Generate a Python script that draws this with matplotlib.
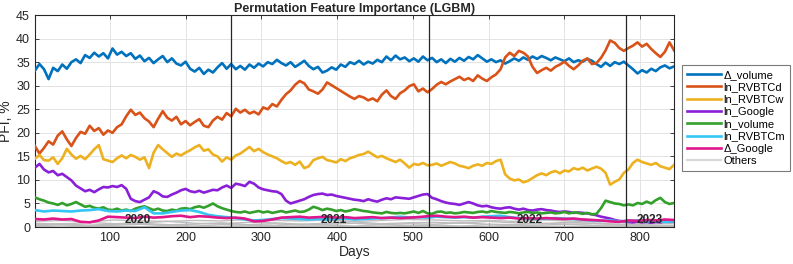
import numpy as np
import matplotlib
matplotlib.use("Agg")
import matplotlib.pyplot as plt

plt.rcParams['font.family'] = ['Liberation Sans', 'DejaVu Sans']

# ---------------- data (~6-day / 12-day resolution) -------------
d_volume = [
    33.2, 34.6, 33.5, 31.4, 33.8, 33.1, 34.5, 33.6, 35.0, 35.6,
    34.8, 36.5, 35.9, 37.0, 36.2, 36.9, 35.8, 37.9, 36.6, 37.2,
    36.3, 36.9, 35.7, 36.4, 35.2, 35.9, 34.8, 35.6, 36.3, 35.0,
    35.8, 34.7, 34.3, 35.1, 33.6, 33.0, 33.8, 32.5, 33.4, 32.8,
    33.9, 34.8, 33.6, 34.6, 33.5, 34.2, 33.4, 34.5, 33.8, 34.7,
    34.1, 35.0, 34.6, 35.5, 34.8, 34.3, 35.0, 34.0, 34.6, 35.3,
    34.2, 33.5, 34.0, 32.8, 33.2, 33.9, 33.4, 34.5, 34.0, 35.0,
    34.6, 35.3, 34.5, 35.1, 34.7, 35.5, 35.0, 36.2, 35.4, 36.4,
    35.6, 36.0, 35.2, 35.8, 35.1, 36.2, 35.4, 35.9, 35.0, 35.6,
    34.8, 35.7, 35.1, 35.9, 35.3, 36.1, 35.6, 36.5, 35.8, 35.1,
    35.6, 35.0, 35.4, 34.7, 35.2, 35.8, 35.3, 36.0, 35.5, 36.2,
    35.7, 36.3, 35.9, 35.4, 36.0, 35.6, 35.2, 35.8, 35.0, 35.4,
    35.1, 35.7, 35.3, 34.6, 34.0, 34.9, 34.2, 35.0, 34.6, 35.1,
    34.3, 33.5, 32.6, 33.3, 32.8, 33.6, 33.1, 33.9, 34.3, 33.7,
    34.1]

ln_rvbtcd = [
    17.2, 15.6, 16.8, 18.2, 17.5, 19.4, 20.3, 18.6, 17.2, 18.9,
    20.2, 19.8, 21.5, 20.4, 21.0, 19.6, 20.5, 20.0, 21.2, 21.8,
    23.5, 24.9, 23.8, 24.3, 23.1, 22.4, 21.2, 23.0, 24.6, 23.2,
    22.6, 23.4, 21.8, 22.5, 21.6, 22.3, 22.9, 21.5, 21.2, 22.6,
    23.4, 22.8, 24.2, 23.5, 25.1, 24.3, 24.9, 24.1, 24.5, 23.9,
    25.4, 25.0, 26.1, 25.6, 27.0, 28.2, 29.0, 30.2, 31.0, 30.5,
    29.2, 28.8, 28.3, 29.2, 30.7, 30.1, 29.5, 28.9, 28.3, 27.7,
    27.2, 27.8, 27.5, 26.9, 27.3, 26.7, 28.1, 29.0, 27.8, 27.2,
    28.4, 29.0, 29.9, 30.3, 28.8, 29.4, 28.6, 29.3, 30.2, 30.8,
    30.3, 30.9, 31.4, 31.9, 31.2, 31.6, 31.0, 32.2, 31.5, 31.0,
    31.8, 32.4, 33.5, 36.0, 37.0, 36.3, 37.4, 37.0, 36.2, 34.0,
    32.7, 33.3, 33.8, 33.2, 34.0, 34.5, 35.1, 34.2, 33.5, 34.3,
    35.3, 35.8, 34.6, 34.8, 35.9, 37.5, 39.6, 39.1, 38.0, 37.4,
    38.0, 38.5, 39.2, 38.3, 38.9, 37.8, 36.9, 36.1, 37.2, 39.2,
    37.5]

ln_rvbtcw = [
    14.5, 15.3, 14.2, 14.1, 14.8, 13.4, 14.6, 16.6, 15.4, 14.5,
    15.1, 14.4, 15.4, 16.5, 17.4, 14.4, 14.1, 13.8, 14.6, 15.2,
    14.6, 15.3, 14.9, 14.3, 14.8, 12.5, 15.8, 17.4, 16.5, 15.7,
    14.9, 15.6, 15.2, 15.8, 16.3, 16.9, 17.4, 16.2, 16.5, 15.4,
    15.0, 13.9, 14.8, 14.3, 15.2, 15.6, 16.3, 17.0, 16.1, 16.6,
    15.9, 15.4, 15.0, 14.6, 14.0, 13.5, 13.8, 13.2, 13.9, 12.5,
    12.9, 14.2, 14.6, 14.9, 14.2, 14.0, 13.7, 14.4, 14.0, 14.6,
    14.9, 15.3, 15.5, 16.0, 15.4, 14.8, 15.1, 14.6, 14.2, 13.8,
    14.3, 13.5, 12.6, 13.4, 13.2, 13.6, 13.1, 13.2, 13.5, 13.0,
    13.4, 13.8, 13.5, 13.0, 12.8, 12.5, 13.0, 13.3, 13.0, 13.6,
    13.4, 14.0, 14.3, 11.2, 10.3, 9.9, 10.1, 9.5, 9.8, 10.4,
    11.0, 11.4, 11.0, 11.6, 11.9, 11.4, 12.0, 11.8, 12.5, 12.2,
    12.6, 12.0, 12.4, 12.8, 12.4, 11.5, 9.0, 9.6, 10.1, 11.5,
    12.2, 13.6, 14.3, 13.8, 13.5, 13.2, 13.6, 12.9, 12.6, 12.3,
    13.2]

ln_google = [
    12.6, 13.4, 12.2, 11.6, 11.9, 11.0, 11.3, 10.6, 9.9, 8.8,
    8.2, 7.6, 7.9, 7.4, 8.0, 8.5, 8.4, 8.7, 8.5, 8.9,
    8.1, 6.0, 5.5, 5.3, 5.8, 6.3, 7.6, 7.2, 6.5, 6.4,
    6.9, 7.3, 7.8, 8.1, 7.6, 7.4, 7.7, 7.3, 7.6, 7.9,
    7.8, 8.4, 8.8, 8.3, 9.2, 9.0, 8.7, 9.6, 9.2, 8.4,
    8.0, 7.8, 7.6, 7.5, 7.0, 5.6, 5.0, 5.3, 5.6, 5.9,
    6.4, 6.8, 7.0, 7.1, 6.8, 6.9, 6.6, 6.4, 6.2, 6.0,
    5.8, 5.7, 5.5, 5.9, 5.6, 5.4, 5.8, 6.1, 5.9, 6.3,
    6.2, 6.1, 6.0, 6.3, 6.6, 6.9, 7.0, 6.2, 5.9, 5.5,
    5.2, 5.0, 4.9, 4.7, 5.0, 5.3, 5.0, 4.6, 4.4, 4.5,
    4.2, 4.0, 3.9, 4.1, 4.2, 3.9, 3.7, 3.9, 3.6, 3.5,
    3.7, 3.8, 3.6, 3.5, 3.3, 3.2, 3.3, 3.2, 3.0, 3.1,
    3.0, 2.9, 2.7, 2.5, 2.2, 2.0, 1.8, 1.5, 1.3, 1.2,
    1.1, 1.0, 1.2, 1.0, 1.1, 0.9, 1.1, 1.0, 1.2, 1.1,
    1.2]

ln_volume = [
    6.3, 5.9, 5.6, 5.2, 5.0, 4.7, 5.1, 4.6, 4.9, 5.3,
    4.8, 4.3, 4.5, 4.1, 3.9, 4.2, 3.7, 3.6, 3.9, 3.5,
    3.7, 3.4, 3.9, 4.2, 4.4, 4.0, 3.6, 3.9, 3.5, 3.4,
    3.7, 3.5, 3.9, 4.0, 3.8, 4.2, 4.4, 4.1, 4.5, 5.0,
    4.4, 4.0, 3.7, 3.4, 3.2, 3.1, 3.3, 3.0, 3.2, 3.4,
    3.1, 3.3, 3.0, 3.2, 3.4, 3.1, 3.3, 3.5, 3.2, 3.3,
    3.7, 4.3, 4.0, 3.6, 3.9, 3.7, 3.4, 3.6, 3.3, 3.5,
    3.8, 3.6, 3.4, 3.3, 3.1, 3.0, 2.9, 3.2, 3.0, 2.9,
    3.0, 2.9, 3.1, 3.3, 3.0, 3.4, 2.9, 2.8, 3.2, 3.3,
    3.0, 3.1, 2.9, 3.0, 3.2, 3.1, 3.0, 3.2, 3.3, 3.1,
    3.4, 3.2, 3.1, 3.0, 3.2, 3.1, 2.9, 3.1, 3.2, 3.0,
    3.1, 2.9, 3.0, 3.1, 2.9, 3.0, 3.2, 2.9, 3.1, 3.0,
    2.8, 3.0, 2.7, 2.8, 4.0, 5.6, 5.3, 5.0, 4.9, 4.6,
    4.8, 4.6, 5.1, 4.9, 5.4, 5.0, 5.7, 6.2, 5.3, 4.9,
    5.1]

ln_rvbtcm = [
    3.6, 3.3, 3.5, 3.4, 3.3, 3.5, 3.6, 3.8, 3.4, 3.3,
    3.5, 3.4, 4.2, 2.9, 2.9, 3.2, 3.5, 3.6, 3.2, 2.6,
    2.3, 2.1, 1.9, 1.6, 1.4, 1.5, 1.7, 1.9, 1.8, 1.7,
    1.6, 1.7, 1.6, 1.7, 1.8, 1.6, 1.7, 1.8, 1.9, 2.0,
    2.2, 2.0, 2.1, 2.0, 2.2, 2.1, 2.0, 2.1, 2.0, 2.2,
    2.3, 2.4, 2.1, 1.9, 1.8, 1.7, 1.8, 1.9, 1.8, 1.7,
    1.6, 1.4, 1.3, 1.4, 1.2, 1.3, 1.4, 1.2, 1.3, 1.1,
    1.2]

d_google = [
    1.7, 1.6, 1.8, 1.6, 1.7, 1.1, 1.0, 1.4, 2.2, 2.1,
    2.0, 1.9, 2.2, 2.0, 2.1, 2.3, 2.4, 2.1, 2.3, 2.2,
    2.0, 1.9, 2.0, 1.8, 1.2, 1.3, 1.6, 2.0, 2.1, 2.2,
    2.0, 2.1, 2.2, 2.0, 2.1, 1.9, 2.0, 2.1, 1.9, 2.0,
    1.9, 2.0, 2.1, 2.3, 2.4, 2.2, 2.1, 2.2, 2.0, 2.1,
    2.0, 1.9, 2.0, 1.8, 1.9, 1.8, 1.9, 1.8, 1.7, 1.8,
    1.6, 1.5, 1.4, 1.2, 1.1, 1.4, 1.3, 1.5, 1.4, 1.6,
    1.5]

others = [
    [0.3, 0.5, 0.2, 0.4, 0.6, 0.3, 0.2, 0.5, 0.4, 0.3, 0.6, 0.4, 0.2,
     0.5, 0.3, 0.4, 0.2, 0.5, 0.3, 0.4, 0.6, 0.3, 0.2, 0.4, 0.3],
    [0.8, 0.6, 1.0, 0.7, 0.9, 1.2, 0.8, 0.7, 1.0, 0.9, 0.6, 0.8, 1.1,
     0.7, 0.9, 1.0, 0.8, 1.2, 0.9, 0.7, 1.0, 0.8, 0.6, 0.9, 0.7],
    [0.1, 0.2, 0.1, 0.15, 0.1, 0.2, 0.1, 0.1, 0.2, 0.15, 0.1, 0.2, 0.1,
     0.1, 0.15, 0.2, 0.1, 0.1, 0.2, 0.1, 0.15, 0.1, 0.2, 0.1, 0.1],
    [1.2, 1.4, 1.1, 1.5, 1.3, 1.2, 1.4, 1.3, 1.6, 1.4, 1.3, 1.5, 1.2,
     1.4, 1.6, 1.5, 1.3, 1.4, 1.2, 1.5, 1.3, 1.1, 1.3, 1.2, 1.4],
    [0.5, 0.7, 0.4, 0.6, 0.8, 0.5, 0.6, 0.9, 0.5, 0.7, 0.4, 0.6, 0.8,
     0.5, 0.7, 0.6, 0.9, 0.6, 0.5, 0.8, 0.6, 0.7, 0.5, 0.6, 0.8],
]

series_labels = ["Δ_volume", "ln_RVBTCd", "ln_RVBTCw", "ln_Google",
                 "ln_volume", "ln_RVBTCm", "Δ_Google"]
series_values = [d_volume, ln_rvbtcd, ln_rvbtcw, ln_google,
                 ln_volume, ln_rvbtcm, d_google]
series_colors = ["#0072BD", "#D95319", "#EDB120", "#8A1FD8",
                 "#33A02C", "#33C6F4", "#E0168A"]

first_day, last_day = 1, 845
year_breaks = [260, 521, 782]
year_labels = ["2020", "2021", "2022", "2023"]
year_label_days = [137, 395, 655, 813]

# ---------------- figure ------------------------------------------------------------------
fig = plt.figure(figsize=(7.93, 2.64), dpi=100)
ax = fig.add_axes([0.044, 0.140, 0.806, 0.803])

for o in others:
    x = np.linspace(first_day, last_day, len(o))
    ax.plot(x, o, color="#BDBDBD", lw=1.0, zorder=2)
other_handle, = ax.plot([], [], color="#D9D9D9", lw=1.6)

handles = []
for vals, lab, col in zip(series_values, series_labels, series_colors):
    x = np.linspace(first_day, last_day, len(vals))
    h, = ax.plot(x, vals, color=col, lw=1.9, label=lab, zorder=3)
    handles.append(h)

for xb in year_breaks:
    ax.axvline(xb, color="#262626", lw=0.9, zorder=4)

for lab, xd in zip(year_labels, year_label_days):
    ax.text(xd, 1.4, lab, ha="center", va="center", fontsize=8.5,
            fontweight="bold", color="#262626", zorder=5)

ax.set_xlim(first_day, last_day)
ax.set_ylim(0, 45)
ax.set_xticks(np.arange(100, 801, 100))
ax.set_yticks(np.arange(0, 46, 5))
ax.grid(True, color="#E3E3E3", lw=0.7)
ax.set_axisbelow(True)
ax.tick_params(direction="in", top=True, right=True, labelsize=9,
               colors="#262626", length=3, width=0.6)
for s in ax.spines.values():
    s.set_color("#262626")
    s.set_linewidth(0.8)

ax.set_title("Permutation Feature Importance (LGBM)", fontsize=9,
             fontweight="bold", color="#262626", pad=2)
ax.set_xlabel("Days", fontsize=10, color="#262626", labelpad=1)
ax.set_ylabel("PFI, %", fontsize=10, color="#262626", labelpad=2)

leg = ax.legend(handles + [other_handle], series_labels + ["Others"],
                loc="upper left", bbox_to_anchor=(1.013, 0.765),
                borderaxespad=0, fontsize=8, handlelength=3.0,
                handletextpad=0.25, labelspacing=0.21, fancybox=False,
                framealpha=1, edgecolor="#7A7A7A", borderpad=0.45)
leg.get_frame().set_linewidth(0.8)

fig.savefig("out.png", dpi=100)
